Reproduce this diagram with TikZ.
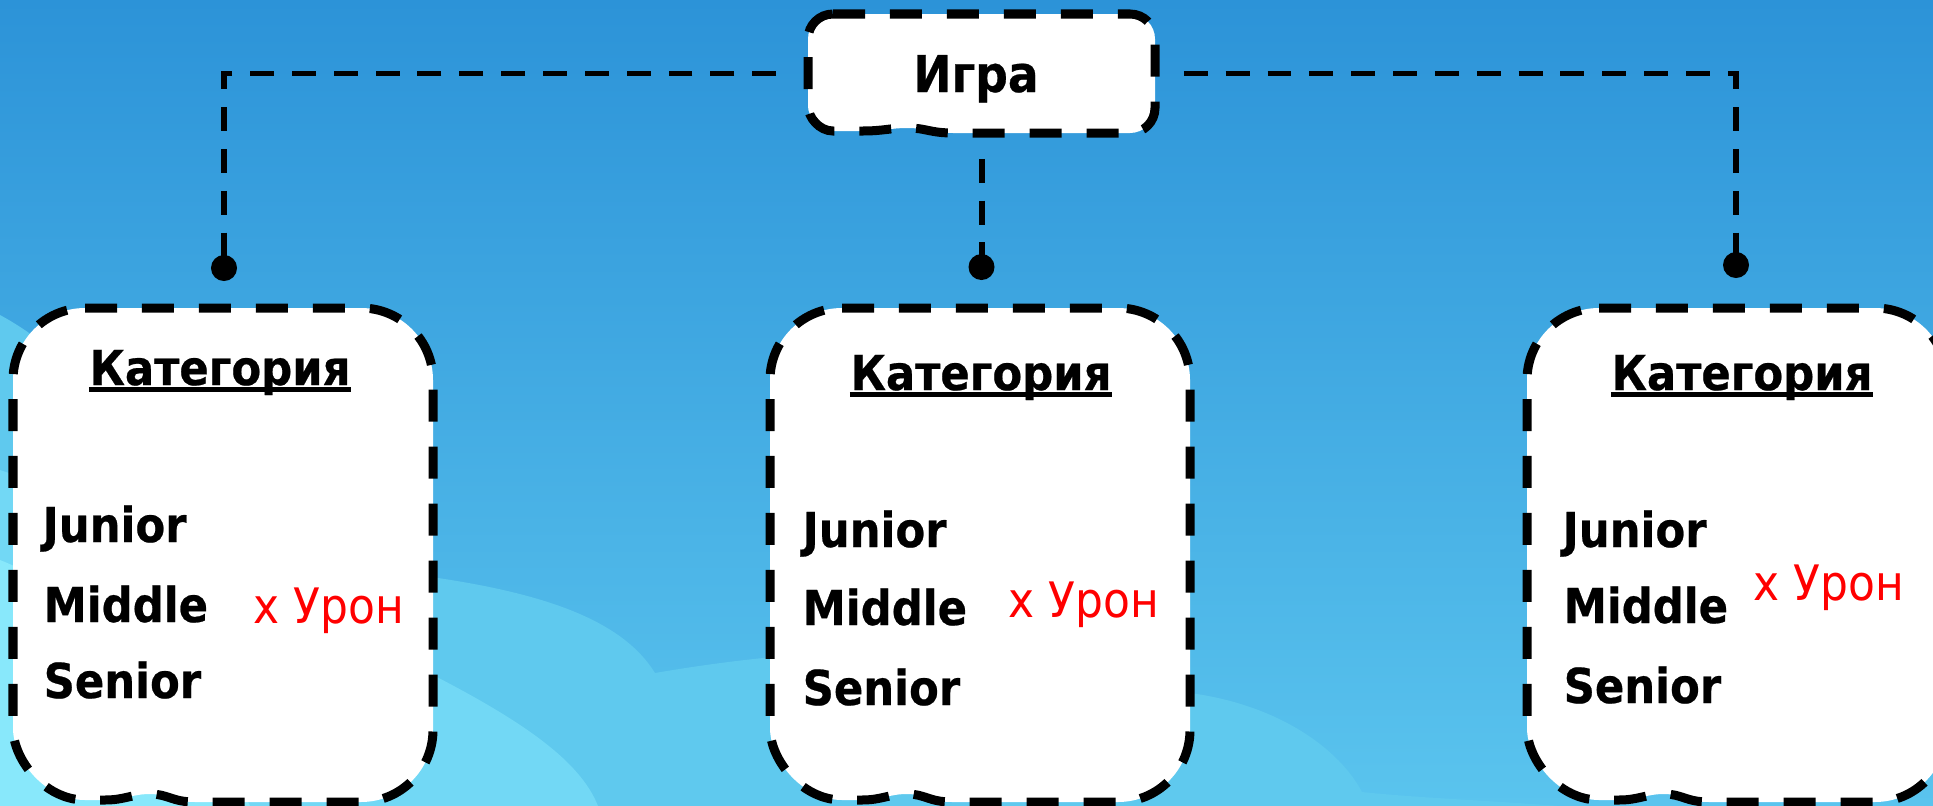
\documentclass[tikz,border=0pt]{standalone}
\usepackage{fontspec}
\setmainfont{DejaVu Sans}[FakeStretch=0.9, BoldFeatures={FakeBold=0.5}]
\definecolor{skytop}{HTML}{2C93D8}
\definecolor{skybot}{HTML}{5AC4EE}
\definecolor{cloudA}{HTML}{5FC9EE}
\definecolor{cloudB}{HTML}{72D8F5}
\definecolor{cloudC}{HTML}{88E8FB}
\newcommand{\wavybox}[7]{%
  \path[boxline] ({#1+#5},#2) -- ({#3-#5},#2)
    .. controls ({#3-0.448*#5},#2) and (#3,{#2+0.448*#5}) .. (#3,{#2+#5})
    -- (#3,{#4-#5})
    .. controls (#3,{#4-0.448*#5}) and ({#3-0.448*#5},#4) .. ({#3-#5},#4)
    -- ({#6+45},#4)
    .. controls ({#6+22},#4) and ({#6+18},{#4-#7}) .. (#6,{#4-#7})
    .. controls ({#6-18},{#4-#7}) and ({#6-25},{#4-2}) .. ({#6-45},{#4-2})
    -- ({#1+#5},{#4-2})
    .. controls ({#1+0.448*#5},{#4-2}) and (#1,{#4-2-0.552*#5}) .. (#1,{#4-2-#5})
    -- (#1,{#2+#5})
    .. controls (#1,{#2+0.448*#5}) and ({#1+0.448*#5},#2) .. ({#1+#5},#2) -- cycle;}
\begin{document}
\begin{tikzpicture}[x=0.01cm,y=-0.01cm,
  boxline/.style={fill=white, draw=black, line width=2.56pt, dash pattern=on 9.1pt off 7.1pt},
  region/.style={draw=none, inner sep=0pt},
  conn/.style={draw=black, line width=1.7pt, dash pattern=on 6.8pt off 5.1pt},
  enddot/.style={circle, fill=black, inner sep=0pt, minimum size=0.26cm},
  head/.style={anchor=base, inner sep=0pt, font=\bfseries\fontsize{13.7}{16}\selectfont},
  lvl/.style={anchor=base west, inner sep=0pt, font=\bfseries\fontsize{13.7}{16}\selectfont},
  dmg/.style={anchor=base west, inner sep=0pt, text=red, font=\fontsize{13.9}{17}\selectfont},
  uline/.style={draw=black, line width=1.5pt}]
\useasboundingbox (0,0) rectangle (1933,806);
\clip (0,0) rectangle (1933,806);
% sky and clouds
\fill[top color=skytop, bottom color=skybot] (0,0) rectangle (1933,806);
\fill[cloudA] (0,315) .. controls (120,380) and (200,540) .. (330,565)
  .. controls (480,580) and (610,600) .. (655,673)
  .. controls (760,655) and (900,640) .. (1060,660)
  .. controls (1140,668) and (1170,688) .. (1190,693)
  .. controls (1280,705) and (1340,750) .. (1362,792)
  .. controls (1420,798) and (1480,800) .. (1560,806) -- (0,806) -- cycle;
\fill[cloudB] (0,470) .. controls (150,520) and (300,600) .. (433,675)
  .. controls (520,720) and (580,760) .. (598,806) -- (0,806) -- cycle;
\fill[cloudC] (0,560) .. controls (100,600) and (200,700) .. (250,806) -- (0,806) -- cycle;
% boxes
\wavybox{808}{14}{1155}{133}{25}{908}{5}
\wavybox{13}{308}{433}{802}{72}{150}{8}
\wavybox{770}{308}{1190}{802}{72}{907}{8}
\wavybox{1527}{308}{1947}{802}{72}{1664}{8}
\node[region, minimum width=3.47cm, minimum height=1.19cm] (game) at (981.5,73.5) {};
\node[region, minimum width=4.2cm, minimum height=4.94cm] (cat1) at (223,555) {};
\node[region, minimum width=4.2cm, minimum height=4.94cm] (cat2) at (980,555) {};
\node[region, minimum width=4.2cm, minimum height=4.94cm] (cat3) at (1737,555) {};
% title
\node[head, font=\bfseries\fontsize{14.4}{17}\selectfont] (gameLabel) at (976,92) {Игра};
% connectors
\node[enddot] (d1) at (224,268) {};
\node[enddot] (d2) at (981.5,267) {};
\node[enddot] (d3) at (1736,265) {};
\draw[conn] ([xshift=-0.31cm]game.west) -| (d1.center);
\draw[conn] ([yshift=-0.25cm]game.south) -- (d2.center);
\draw[conn] ([xshift=0.28cm]game.east) -| (d3.center);
% left category
\node[head] (k1) at (220,385) {Категория};
\draw[uline] ([yshift=-0.045cm]k1.base west) -- ([yshift=-0.045cm]k1.base east);
\node[lvl] (j1) at (42,542) {Junior};
\node[lvl] (m1) at (43,622) {Middle};
\node[lvl] (s1) at (43,698) {Senior};
\node[dmg] (u1) at (253,623) {x Урон};
% middle category
\node[head] (k2) at (981,390) {Категория};
\draw[uline] ([yshift=-0.045cm]k2.base west) -- ([yshift=-0.045cm]k2.base east);
\node[lvl] (j2) at (802,547) {Junior};
\node[lvl] (m2) at (802,625) {Middle};
\node[lvl] (s2) at (802,705) {Senior};
\node[dmg] (u2) at (1008,617) {x Урон};
% right category
\node[head] (k3) at (1742,390) {Категория};
\draw[uline] ([yshift=-0.045cm]k3.base west) -- ([yshift=-0.045cm]k3.base east);
\node[lvl] (j3) at (1562,547) {Junior};
\node[lvl] (m3) at (1563,623) {Middle};
\node[lvl] (s3) at (1563,703) {Senior};
\node[dmg] (u3) at (1753,600) {x Урон};
\end{tikzpicture}
\end{document}
